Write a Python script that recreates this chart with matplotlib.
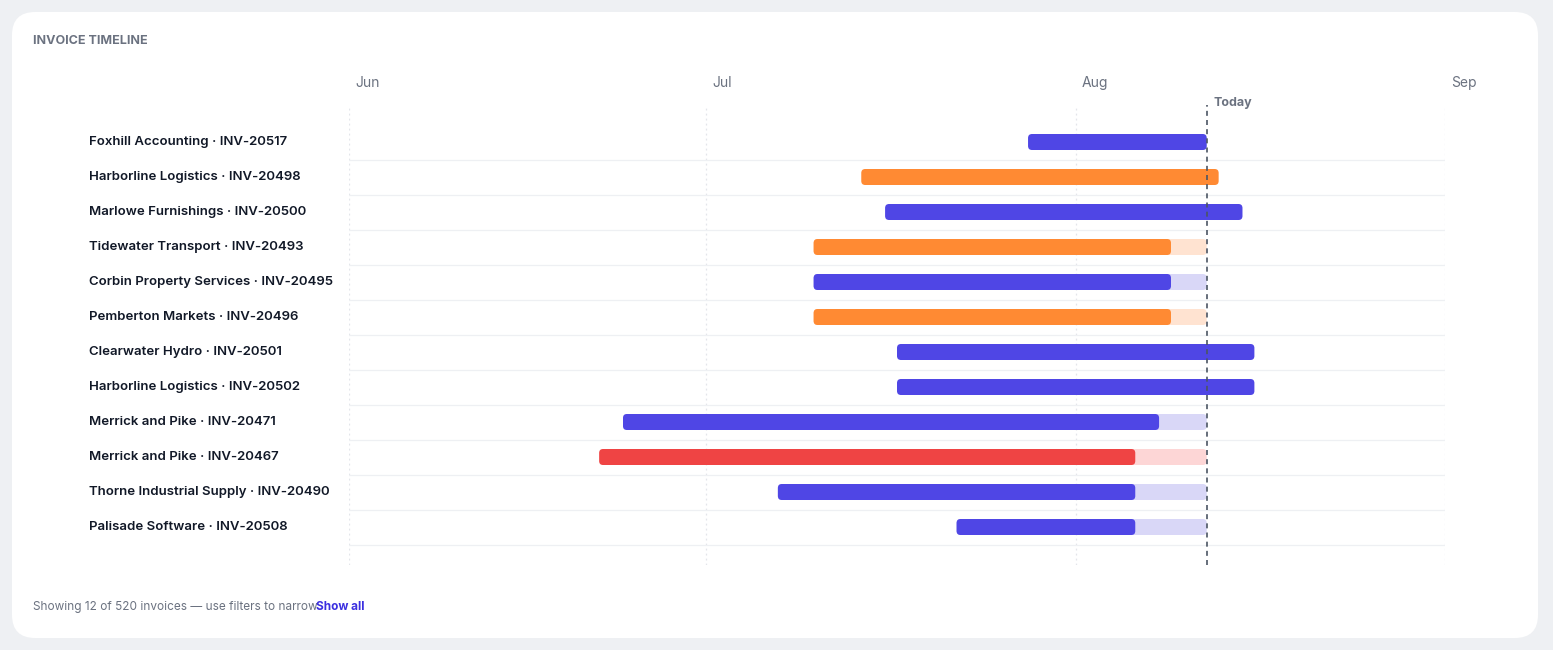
import matplotlib
matplotlib.use("Agg")
import matplotlib.pyplot as plt
from matplotlib.patches import FancyBboxPatch
import datetime as dt

plt.rcParams['font.family'] = ['Inter', 'DejaVu Sans']

labels = ["Foxhill Accounting · INV-20517","Harborline Logistics · INV-20498","Marlowe Furnishings · INV-20500",
          "Tidewater Transport · INV-20493","Corbin Property Services · INV-20495","Pemberton Markets · INV-20496",
          "Clearwater Hydro · INV-20501","Harborline Logistics · INV-20502","Merrick and Pike · INV-20471",
          "Merrick and Pike · INV-20467","Thorne Industrial Supply · INV-20490","Palisade Software · INV-20508"]
starts = ["2024-07-28","2024-07-14","2024-07-16","2024-07-10","2024-07-10","2024-07-10","2024-07-17","2024-07-17",
          "2024-06-24","2024-06-22","2024-07-07","2024-07-22"]
ends = ["2024-08-12","2024-08-13","2024-08-15","2024-08-09","2024-08-09","2024-08-09","2024-08-16","2024-08-16",
        "2024-08-08","2024-08-06","2024-08-06","2024-08-06"]
status = ["indigo","orange","indigo","orange","indigo","orange","indigo","indigo","indigo","red","indigo","indigo"]
today = "2024-08-12"
months = ["Jun","Jul","Aug","Sep"]
month_dates = ["2024-06-01","2024-07-01","2024-08-01","2024-09-01"]

base = dt.date(2024,6,1)
def d(s): return (dt.date.fromisoformat(s)-base).days
colors = {"indigo":("#4F46E5","#D9D7F7"),"orange":("#FF8A33","#FFE3D1"),"red":("#EF4444","#FDD6D6")}

W,H = 1553,650
fig = plt.figure(figsize=(W/100,H/100),dpi=100)
fig.patch.set_facecolor("#EEF0F3")
card = FancyBboxPatch((12/W,12/H),(1526/W),(626/H),boxstyle="round,pad=0,rounding_size=0.015",
                      transform=fig.transFigure,facecolor="white",edgecolor="none",mutation_aspect=W/H,zorder=-5)
fig.patches.append(card)

x0,x1 = 349,1445; ytop,ybot = 105,565
ax = fig.add_axes([x0/W,1-ybot/H,(x1-x0)/W,(ybot-ytop)/H])
ax.set_zorder(1)
ax.set_facecolor("none")
xmin,xmax = d(month_dates[0]), d(month_dates[-1])
ax.set_xlim(xmin,xmax)
ax.set_ylim((565-142)/35,(105-142)/35)
for s in ax.spines.values(): s.set_visible(False)
ax.set_xticks([]); ax.set_yticks([])
for md in month_dates:
    ax.axvline(d(md),color="#E3E5EA",lw=0.9,ls=(0,(1.5,2.5)),zorder=0)
for i in range(len(labels)):
    ax.plot([xmin,xmax],[i+0.5,i+0.5],color="#EEF0F3",lw=0.9,zorder=0)
px_per_day = (x1-x0)/(xmax-xmin)
asp = (1/35)/(1/px_per_day)
rs = 4/px_per_day
bh = 16/35
t = d(today)
for i,(s,e,c) in enumerate(zip(starts,ends,status)):
    sd,ed = d(s),d(e)
    dark,light = colors[c]
    if ed < t:
        ax.add_patch(FancyBboxPatch((sd,i-bh/2),t-sd,bh,boxstyle=f"round,pad=0,rounding_size={rs}",
                                    mutation_aspect=asp,facecolor=light,edgecolor="none",zorder=2))
    ax.add_patch(FancyBboxPatch((sd,i-bh/2),ed-sd,bh,boxstyle=f"round,pad=0,rounding_size={rs}",
                                mutation_aspect=asp,facecolor=dark,edgecolor="none",zorder=3))
    fig.text(89/W,1-(142+35*i)/H,labels[i],fontsize=9.5,fontweight="semibold",color="#111827",va="center",ha="left")
ax.axvline(t,color="#4B5563",lw=1.2,ls=(0,(3,2.5)),zorder=4)
ax.text(t+0.6,(103-142)/35,"Today",fontsize=9,fontweight="bold",color="#6B7280",va="center",ha="left",clip_on=False)
for m,md in zip(months,month_dates):
    fig.text((x0+(d(md)-xmin)*px_per_day+6)/W,1-83/H,m,fontsize=10,color="#6B7280",va="center",ha="left")
fig.text(33/W,1-41/H,"INVOICE TIMELINE",fontsize=9,fontweight="bold",color="#6B7280",va="center")
fig.text(33/W,1-607/H,"Showing 12 of 520 invoices — use filters to narrow",fontsize=8.5,color="#6B7280",va="center")
fig.text(316/W,1-607/H,"Show all",fontsize=8.5,fontweight="bold",color="#3B2FE0",va="center")
fig.savefig("out.png",dpi=100,facecolor=fig.get_facecolor())
